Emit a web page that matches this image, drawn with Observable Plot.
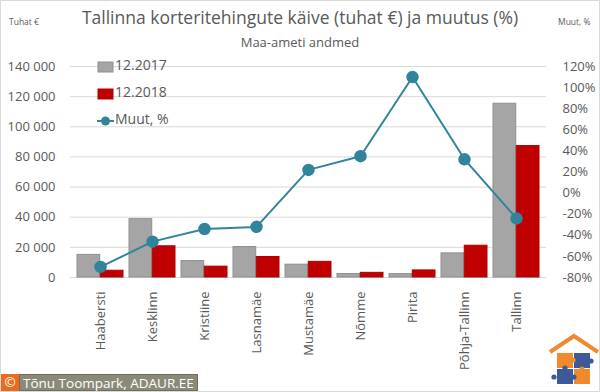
<!DOCTYPE html>
<html>
<head>
<meta charset="utf-8">
<script src="https://cdn.jsdelivr.net/npm/d3@7"></script>
<script src="https://cdn.jsdelivr.net/npm/@observablehq/plot@0.6"></script>
<style>
  html, body { margin: 0; padding: 0; background: #fff; }
  #wrap { position: relative; width: 600px; height: 392px; font-family: "Open Sans", sans-serif; color: #595959; overflow: hidden; }
  #wrap svg.plot { position: absolute; left: 0; top: 0; }
  .abs { position: absolute; white-space: nowrap; line-height: 1; }
  #border { position: absolute; left: 0; top: 0; width: 598px; height: 390px; border: 1px solid #d9d9d9; pointer-events: none; }
</style>
</head>
<body>
<div id="wrap"></div>
<script>
// ---- data ----
const districts = ["Haabersti", "Kesklinn", "Kristiine", "Lasnamäe", "Mustamäe", "Nõmme", "Pirita", "Põhja-Tallinn", "Tallinn"];
const values2017 = [15000, 38700, 10900, 20200, 8500, 2300, 2250, 16000, 115300];
const values2018 = [4500, 20700, 7200, 13600, 10400, 3100, 4700, 21100, 87200];
const changePct = [-70, -46, -34, -32, 22, 35, 110, 32, -24];
const leftTicks = [0, 20000, 40000, 60000, 80000, 100000, 120000, 140000];
const pctTicks = [-80, -60, -40, -20, 0, 20, 40, 60, 80, 100, 120];
const seriesNames = ["12.2017", "12.2018", "Muut, %"];

const titleText = "Tallinna korteritehingute käive (tuhat €) ja muutus (%)";
const subtitleText = "Maa-ameti andmed";
const leftUnit = "Tuhat €";
const rightUnit = "Muut, %";
const creditText = "Tõnu Toompark, ADAUR.EE";

// ---- build ----
const data = districts.map((d, i) => ({d, v17: values2017[i], v18: values2018[i], m: changePct[i]}));

const W = 600, H = 392, mL = 70, mR = 54, mT = 66, mB = 115;
const padIn = 0.12, padOut = 0.06;
const step = (W - mL - mR) / (districts.length - padIn + 2 * padOut);
const bw = step * (1 - padIn);

// map percent axis onto the left scale domain
const pMin = pctTicks[0], pMax = pctTicks[pctTicks.length - 1];
const yMax = leftTicks[leftTicks.length - 1];
const k = yMax / (pMax - pMin);
const toLeft = p => (p - pMin) * k;
const fromLeft = v => Math.round(v / k + pMin);

const fmtThousands = v => d3.format(",")(v).replace(/,/g, "\u00a0");

const lineColor = "#31849b";

const chart = Plot.plot({
  width: W, height: H,
  marginLeft: mL, marginRight: mR, marginTop: mT, marginBottom: mB,
  style: {fontFamily: "Open Sans, sans-serif", fontSize: "13px", color: "#595959", background: "transparent"},
  x: {domain: districts, paddingInner: padIn, paddingOuter: padOut, axis: null, label: null},
  y: {domain: [0, yMax], axis: null, label: null},
  marks: [
    Plot.gridY(leftTicks, {stroke: "#d9d9d9", strokeOpacity: 1, strokeWidth: 1}),
    Plot.axisY({anchor: "left", ticks: leftTicks, tickFormat: fmtThousands, tickSize: 0, tickPadding: 15, label: null, fontSize: 13}),
    Plot.axisY({anchor: "right", ticks: pctTicks.map(toLeft), tickFormat: v => fromLeft(v) + "%", tickSize: 0, tickPadding: 16, label: null, fontSize: 13}),
    Plot.axisX({anchor: "bottom", tickRotate: -90, tickSize: 0, tickPadding: 14, label: null, fontSize: 13}),
    Plot.barY(data, {x: "d", y: "v17", fill: "#a5a5a5", stroke: "#8f8f8f", strokeWidth: 1, insetRight: bw / 2}),
    Plot.barY(data, {x: "d", y: "v18", fill: "#c00000", stroke: "#b00000", strokeWidth: 1, insetLeft: bw / 2}),
    Plot.line(data, {x: "d", y: d => toLeft(d.m), stroke: lineColor, strokeWidth: 2}),
    Plot.dot(data, {x: "d", y: d => toLeft(d.m), r: 5.5, fill: lineColor, stroke: lineColor})
  ]
});
chart.classList.add("plot");
const wrap = document.getElementById("wrap");
wrap.appendChild(chart);

function addText(txt, css) {
  const el = document.createElement("div");
  el.className = "abs";
  el.textContent = txt;
  Object.assign(el.style, css);
  wrap.appendChild(el);
  return el;
}

// titles
addText(titleText, {left: "0", width: "600px", textAlign: "center", top: "9px", fontSize: "17.5px"});
addText(subtitleText, {left: "0", width: "600px", textAlign: "center", top: "36px", fontSize: "13px"});
addText(leftUnit, {left: "9px", top: "18px", fontSize: "8.5px"});
addText(rightUnit, {left: "558px", top: "18px", fontSize: "8.5px"});

// legend
const legendRows = [
  {name: seriesNames[0], type: "sq", color: "#a5a5a5", stroke: "#8f8f8f", cy: 67},
  {name: seriesNames[1], type: "sq", color: "#c00000", stroke: "#b00000", cy: 94},
  {name: seriesNames[2], type: "line", color: lineColor, cy: 121}
];
legendRows.forEach(r => {
  const s = d3.create("svg").attr("width", 18).attr("height", 14)
    .style("position", "absolute").style("left", "97px").style("top", (r.cy - 7) + "px");
  if (r.type === "sq") {
    s.append("rect").attr("x", 1).attr("y", 2).attr("width", 15).attr("height", 10).attr("fill", r.color).attr("stroke", r.stroke);
  } else {
    s.append("line").attr("x1", 0).attr("x2", 17).attr("y1", 7).attr("y2", 7).attr("stroke", r.color).attr("stroke-width", 2);
    s.append("circle").attr("cx", 8.5).attr("cy", 7).attr("r", 4.5).attr("fill", r.color);
  }
  wrap.appendChild(s.node());
  addText(r.name, {left: "115px", top: (r.cy - 9) + "px", fontSize: "14px"});
});

// credit badge
const badge = document.createElement("div");
badge.className = "abs";
Object.assign(badge.style, {left: "1px", top: "374px", height: "17px", display: "flex", alignItems: "stretch", fontSize: "13.5px", color: "#fff"});
const c1 = document.createElement("div");
c1.textContent = "©";
Object.assign(c1.style, {background: "#ec6a1c", width: "18px", textAlign: "center", lineHeight: "17px"});
const c2 = document.createElement("div");
c2.textContent = creditText;
Object.assign(c2.style, {background: "#8b8a78", padding: "0 3px", lineHeight: "17px", border: "1px solid #6e6d5e", boxSizing: "border-box"});
badge.appendChild(c1); badge.appendChild(c2);
wrap.appendChild(badge);

// logo (decoration)
const logo = d3.create("svg").attr("width", 52).attr("height", 60)
  .style("position", "absolute").style("left", "547px").style("top", "332px");
logo.append("polyline").attr("points", "3,20 27,4 51,20").attr("fill", "none").attr("stroke", "#f08a2c").attr("stroke-width", 4);
const sq = [[10, 21, "#f08a2c"], [27, 21, "#3c5a9a"], [10, 37, "#3c5a9a"], [27, 37, "#f08a2c"]];
sq.forEach(([x, y, c]) => {
  logo.append("rect").attr("x", x).attr("y", y).attr("width", 16).attr("height", 15).attr("fill", c);
});
[[26, 28, "#f08a2c"], [18, 36, "#3c5a9a"], [35, 37, "#f08a2c"], [27, 45, "#3c5a9a"], [7, 45, "#3c5a9a"], [44, 29, "#3c5a9a"]].forEach(([x, y, c]) => {
  logo.append("circle").attr("cx", x).attr("cy", y).attr("r", 2.6).attr("fill", c);
});
wrap.appendChild(logo.node());

const border = document.createElement("div");
border.id = "border";
wrap.appendChild(border);
</script>
</body>
</html>
